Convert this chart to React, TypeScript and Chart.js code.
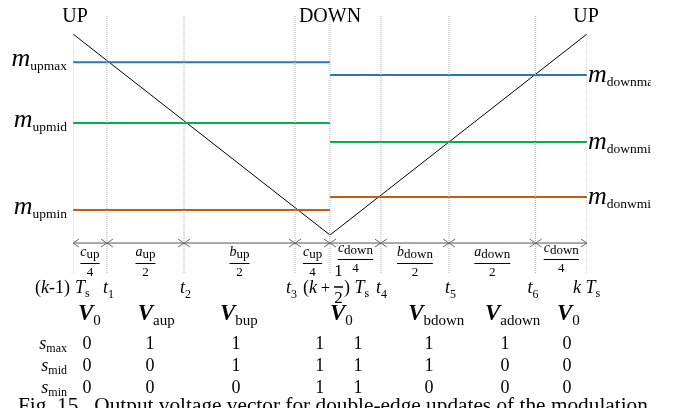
import React, { useEffect, useRef } from "react";
import { Chart, registerables } from "chart.js";
Chart.register(...registerables);

// ---- data ----
const carrierTimes = [0, 0.5, 1];
const carrierValues = [1, 0, 1];
const upLevelNames = ["upmax", "upmid", "upmin"];
const upLevels = [0.86, 0.557, 0.124];
const downLevelNames = ["downmax", "downmid", "donwmin"];
const downLevels = [0.796, 0.463, 0.189];
const switchTimes = [0.066, 0.216, 0.432, 0.5, 0.599, 0.7315, 0.9];
const switchNames = ["1", "2", "3", "", "4", "5", "6"];
const intervalNum = ["c", "a", "b", "c", "c", "b", "a", "c"];
const intervalSub = ["up", "up", "up", "up", "down", "down", "down", "down"];
const intervalDen = ["4", "2", "2", "4", "4", "2", "2", "4"];
const vectorSubs = ["0", "aup", "bup", "0", "bdown", "adown", "0"];
const vectorTimes = [0.0097, 0.126, 0.286, 0.5, 0.652, 0.8016, 0.9416];
const stateRows = ["max", "mid", "min"];
const sMax = [0, 1, 1, 1, 1, 1, 1, 0];
const sMid = [0, 0, 1, 1, 1, 1, 0, 0];
const sMin = [0, 0, 0, 1, 1, 0, 0, 0];
const stateTimes = [0.027, 0.15, 0.317, 0.48, 0.5545, 0.6926, 0.8405, 0.961];
const caption = "Fig. 15.  Output voltage vector for double-edge updates of the modulation";

const Y_TOP = 1.0896;
const Y_BOT = -0.189;
const Y_ARROW = -0.04;
const lineColors = ["#2e75b6", "#00b050", "#c55a11"];
const SERIF = "'Liberation Serif', 'Times New Roman', serif";

type Part = { t: string; f: string; dy?: number };

function drawRich(ctx: CanvasRenderingContext2D, x: number, y: number, parts: Part[], align = "left") {
  let w = 0;
  for (const p of parts) {
    ctx.font = p.f;
    w += ctx.measureText(p.t).width;
  }
  let cx = align === "left" ? x : align === "right" ? x - w : x - w / 2;
  ctx.textAlign = "left";
  ctx.textBaseline = "alphabetic";
  for (const p of parts) {
    ctx.font = p.f;
    ctx.fillText(p.t, cx, y + (p.dy || 0));
    cx += ctx.measureText(p.t).width;
  }
  return w;
}

const textPlugin = {
  id: "diagramText",
  afterDraw(chart: any) {
    const ctx: CanvasRenderingContext2D = chart.ctx;
    const xs = chart.scales.x;
    const ys = chart.scales.y;
    const X = (v: number) => xs.getPixelForValue(v);
    const Y = (v: number) => ys.getPixelForValue(v);
    ctx.save();
    ctx.fillStyle = "#000";

    // arrow line decorations
    const ay = Y(Y_ARROW);
    ctx.strokeStyle = "#666";
    ctx.lineWidth = 1;
    const head = (x: number, dir: number) => {
      ctx.beginPath();
      ctx.moveTo(x + dir * 6, ay - 4);
      ctx.lineTo(x, ay);
      ctx.lineTo(x + dir * 6, ay + 4);
      ctx.stroke();
    };
    head(X(0), 1);
    head(X(1), -1);
    for (const t of switchTimes) {
      head(X(t), 1);
      head(X(t), -1);
    }

    // titles
    const big = `20px ${SERIF}`;
    drawRich(ctx, X(0) + 2, 22, [{ t: "UP", f: big }], "center");
    drawRich(ctx, X(0.5), 22, [{ t: "DOWN", f: big }], "center");
    drawRich(ctx, X(1) - 1, 22, [{ t: "UP", f: big }], "center");

    // level labels
    const mF = `italic 26px ${SERIF}`;
    const subF = `13.5px ${SERIF}`;
    upLevels.forEach((v, i) => {
      drawRich(ctx, 67, Y(v) + 4, [{ t: "m", f: mF }, { t: upLevelNames[i], f: subF, dy: 4 }], "right");
    });
    ctx.save();
    ctx.beginPath();
    ctx.rect(0, 0, 651, 408);
    ctx.clip();
    downLevels.forEach((v, i) => {
      drawRich(ctx, X(1) + 1, Y(v) + 7, [{ t: "m", f: mF }, { t: downLevelNames[i], f: subF, dy: 4 }], "left");
    });
    ctx.restore();

    // interval fractions
    const bounds = [0, ...switchTimes, 1];
    for (let i = 0; i < intervalNum.length; i++) {
      const cx = (X(bounds[i]) + X(bounds[i + 1])) / 2;
      const barY = intervalSub[i] === "down" && intervalDen[i] === "4" ? 259 : 263;
      const w = drawRich(ctx, cx, barY - 7, [
        { t: intervalNum[i], f: `italic 14px ${SERIF}` },
        { t: intervalSub[i], f: `13px ${SERIF}`, dy: 2 },
      ], "center");
      ctx.strokeStyle = "#000";
      ctx.lineWidth = 1;
      ctx.beginPath();
      ctx.moveTo(cx - w / 2, barY + 0.5);
      ctx.lineTo(cx + w / 2, barY + 0.5);
      ctx.stroke();
      drawRich(ctx, cx, barY + 13, [{ t: intervalDen[i], f: `13px ${SERIF}` }], "center");
    }

    // time labels
    const tF = `italic 18px ${SERIF}`;
    const nF = `18px ${SERIF}`;
    const sF = `12px ${SERIF}`;
    const base = 293;
    drawRich(ctx, X(0) - 3, base, [{ t: "(", f: nF }, { t: "k", f: tF }, { t: "-1)", f: nF }], "right");
    drawRich(ctx, X(0) + 2, base, [{ t: "T", f: tF }, { t: "s", f: sF, dy: 4 }], "left");
    const tOff = [-4, -4, -9, 0, -5, -4, -8];
    switchTimes.forEach((t, i) => {
      if (!switchNames[i]) return;
      drawRich(ctx, X(t) + tOff[i], base, [{ t: "t", f: tF }, { t: switchNames[i], f: sF, dy: 5 }], "left");
    });
    // (k + 1/2) T_s
    let px = X(0.5) - 27;
    px += drawRich(ctx, px, base, [{ t: "(", f: nF }, { t: "k", f: tF }, { t: " + ", f: `16px ${SERIF}` }], "left");
    const fw = 9;
    drawRich(ctx, px + fw / 2, 276, [{ t: "1", f: `17px ${SERIF}` }], "center");
    ctx.strokeStyle = "#000";
    ctx.lineWidth = 1.5;
    ctx.beginPath();
    ctx.moveTo(px, 287);
    ctx.lineTo(px + fw, 287);
    ctx.stroke();
    drawRich(ctx, px + fw / 2, 303, [{ t: "2", f: `17px ${SERIF}` }], "center");
    px += fw + 1;
    drawRich(ctx, px, base, [{ t: ") ", f: nF }, { t: "T", f: tF }, { t: "s", f: sF, dy: 4 }], "left");
    drawRich(ctx, X(1) - 14, base, [{ t: "k ", f: tF }, { t: "T", f: tF }, { t: "s", f: sF, dy: 4 }], "left");

    // voltage vectors
    const vF = `italic bold 23px ${SERIF}`;
    vectorSubs.forEach((s, i) => {
      drawRich(ctx, X(vectorTimes[i]), 320, [{ t: "V", f: vF }, { t: s, f: `15px ${SERIF}`, dy: 5 }], "left");
    });

    // switching states
    const rows = [sMax, sMid, sMin];
    const rowY = [349, 371, 393];
    rows.forEach((row, r) => {
      drawRich(ctx, 67, rowY[r], [{ t: "s", f: `italic 18px ${SERIF}` }, { t: stateRows[r], f: sF, dy: 3 }], "right");
      row.forEach((v, j) => {
        drawRich(ctx, X(stateTimes[j]), rowY[r], [{ t: String(v), f: `18px ${SERIF}` }], "center");
      });
    });

    // caption (cut off at the bottom)
    drawRich(ctx, 18, 412, [{ t: caption, f: `21.3px ${SERIF}` }], "left");
    ctx.restore();
  },
};

export default function App() {
  const ref = useRef<HTMLCanvasElement>(null);
  useEffect(() => {
    if (!ref.current) return;
    const seg = (x0: number, x1: number, y0: number, y1: number) => [
      { x: x0, y: y0 },
      { x: x1, y: y1 },
    ];
    const datasets: any[] = [];
    // dotted vertical guides
    const guideTimes = [0, ...switchTimes, 1];
    guideTimes.forEach((t) => {
      const top = t === 0 || t === 1 ? 1 : Y_TOP;
      datasets.push({
        data: seg(t, t, top, Y_BOT),
        borderColor: "#b0b0b0",
        borderWidth: 1,
        borderDash: [1, 1],
        pointRadius: 0,
      });
    });
    // arrow axis
    datasets.push({ data: seg(0, 1, Y_ARROW, Y_ARROW), borderColor: "#555", borderWidth: 1, pointRadius: 0 });
    // modulation levels
    upLevels.forEach((v, i) =>
      datasets.push({ data: seg(0, 0.5, v, v), borderColor: lineColors[i], borderWidth: 2, pointRadius: 0 })
    );
    downLevels.forEach((v, i) =>
      datasets.push({ data: seg(0.5, 1, v, v), borderColor: lineColors[i], borderWidth: 2, pointRadius: 0 })
    );
    // carrier
    datasets.push({
      data: carrierTimes.map((t, i) => ({ x: t, y: carrierValues[i] })),
      borderColor: "#000",
      borderWidth: 1,
      pointRadius: 0,
    });

    const chart = new Chart(ref.current, {
      type: "line",
      data: { datasets },
      options: {
        animation: false,
        responsive: false,
        maintainAspectRatio: false,
        layout: { padding: { left: 73, right: 93, top: 16, bottom: 135 } },
        plugins: { legend: { display: false }, tooltip: { enabled: false } },
        scales: {
          x: { type: "linear", min: 0, max: 1, display: false },
          y: { type: "linear", min: Y_BOT, max: Y_TOP, display: false },
        },
      },
      plugins: [textPlugin],
    });
    return () => chart.destroy();
  }, []);
  return (
    <div style={{ position: "fixed", left: 0, top: 0, width: 680, height: 408, background: "#fff" }}>
      <canvas ref={ref} width={680} height={408} />
    </div>
  );
}
